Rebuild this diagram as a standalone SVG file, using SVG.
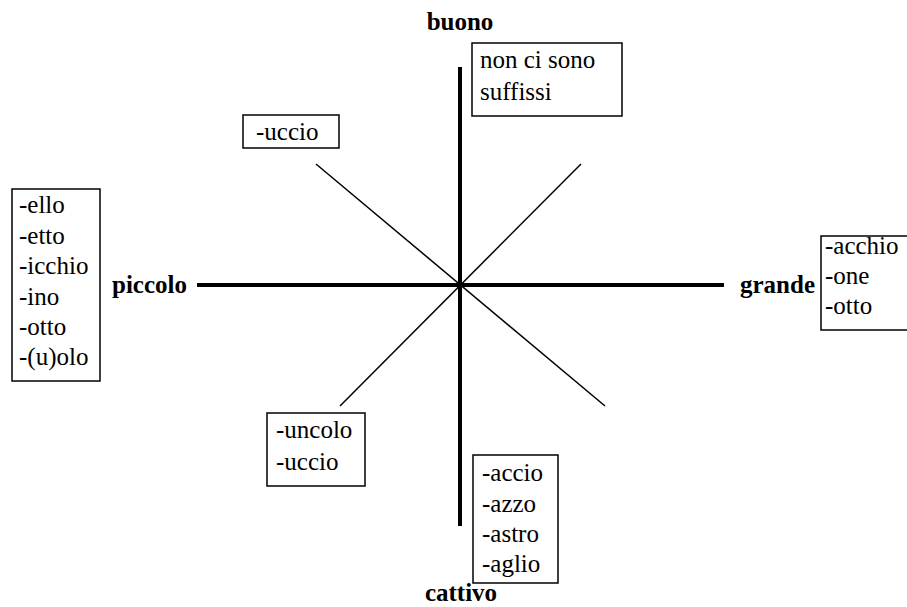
<svg xmlns="http://www.w3.org/2000/svg" width="907" height="607" viewBox="0 0 907 607">
<style>
.box{fill:#fff;stroke:#000;stroke-width:1.5}
.t{font-family:"Liberation Serif","Times New Roman",serif;font-size:25px;fill:#000}
.b{font-family:"Liberation Serif","Times New Roman",serif;font-size:25px;font-weight:bold;fill:#000}
.axis{stroke:#000;stroke-width:4;fill:none}
.diag{stroke:#000;stroke-width:1.5;fill:none}
</style>
<rect width="907" height="607" fill="#fff"/>
<g id="connectors">
<line class="diag" x1="316" y1="164" x2="605" y2="406"/>
<line class="diag" x1="581" y1="164" x2="340" y2="406"/>
<line class="axis" x1="197" y1="285" x2="724" y2="285"/>
<line class="axis" x1="460" y1="67" x2="460" y2="526"/>
</g>
<g id="label-buono"><text class="b" x="460" y="30" text-anchor="middle">buono</text></g>
<g id="label-cattivo"><text class="b" x="461" y="601" text-anchor="middle">cattivo</text></g>
<g id="label-piccolo"><text class="b" x="187" y="293" text-anchor="end">piccolo</text></g>
<g id="label-grande"><text class="b" x="740" y="293">grande</text></g>
<g id="box-buono">
<rect class="box" x="472" y="43" width="150" height="73"/>
<text class="t" x="480" y="68">non ci sono</text>
<text class="t" x="480" y="100">suffissi</text>
</g>
<g id="box-uccio">
<rect class="box" x="243" y="115" width="96" height="33"/>
<text class="t" x="256" y="140">-uccio</text>
</g>
<g id="box-piccolo">
<rect class="box" x="12" y="189" width="88" height="192"/>
<text class="t" x="19" y="213">-ello</text>
<text class="t" x="19" y="244">-etto</text>
<text class="t" x="19" y="274">-icchio</text>
<text class="t" x="19" y="305">-ino</text>
<text class="t" x="19" y="335">-otto</text>
<text class="t" x="19" y="365">-(u)olo</text>
</g>
<g id="box-grande">
<rect class="box" x="821" y="236" width="90" height="94"/>
<text class="t" x="825" y="254">-acchio</text>
<text class="t" x="825" y="284">-one</text>
<text class="t" x="825" y="314">-otto</text>
</g>
<g id="box-uncolo">
<rect class="box" x="267" y="413" width="98" height="73"/>
<text class="t" x="276" y="438">-uncolo</text>
<text class="t" x="276" y="470">-uccio</text>
</g>
<g id="box-cattivo">
<rect class="box" x="473" y="455" width="85" height="128"/>
<text class="t" x="482" y="481">-accio</text>
<text class="t" x="482" y="512">-azzo</text>
<text class="t" x="482" y="542">-astro</text>
<text class="t" x="482" y="572">-aglio</text>
</g>
</svg>
